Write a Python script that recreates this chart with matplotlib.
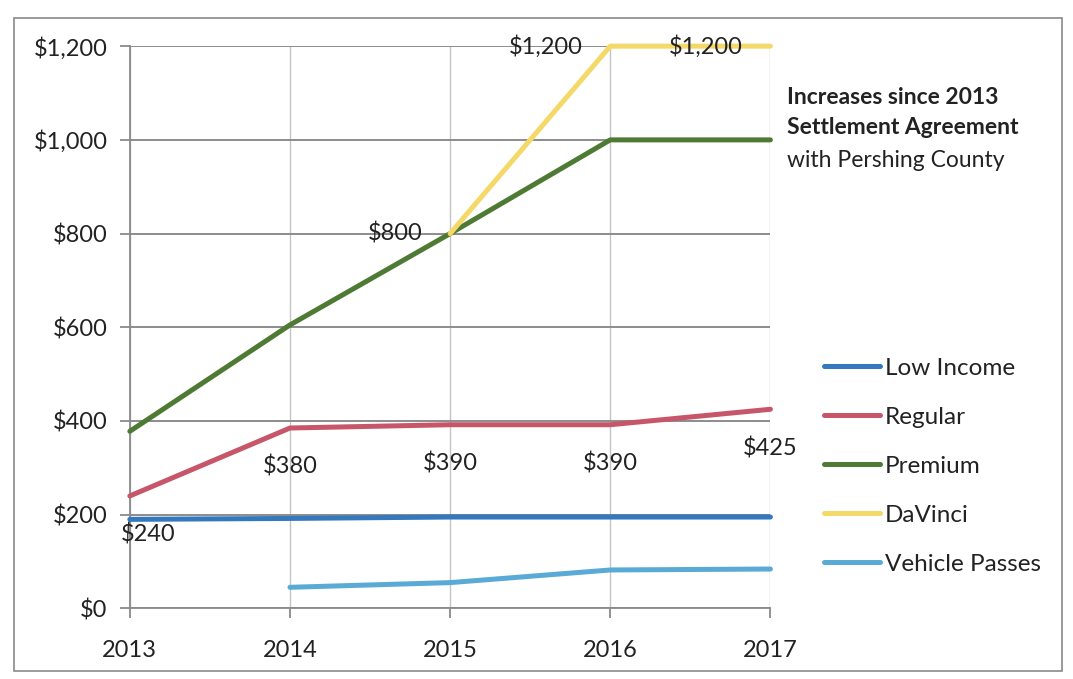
import matplotlib
matplotlib.use("Agg")
import matplotlib.pyplot as plt
import numpy as np
from matplotlib.patches import Rectangle

plt.rcParams['font.family'] = ['Lato', 'DejaVu Sans']

years = [2013, 2014, 2015, 2016, 2017]
low_income = [190, 192, 195, 195, 195]
regular = [240, 385, 392, 392, 425]
premium = [378, 605, 800, 1000, 1000]
davinci = [np.nan, np.nan, 800, 1200, 1200]
vehicle = [np.nan, 45, 55, 82, 84]

regular_labels = ["$240", "$380", "$390", "$390", "$425"]
davinci_labels = [None, None, "$800", "$1,200", "$1,200"]

series_names = ["Low Income", "Regular", "Premium", "DaVinci", "Vehicle Passes"]
colors = ["#3479BE", "#C8566A", "#4E7A34", "#F4D968", "#5AAAD6"]
y_ticks = [0, 200, 400, 600, 800, 1000, 1200]
y_tick_labels = ["$0", "$200", "$400", "$600", "$800", "$1,000", "$1,200"]

fig = plt.figure(figsize=(10.73, 6.79), dpi=100)
ax = fig.add_axes([0.121, 0.104, 0.597, 0.828])

all_series = [low_income, regular, premium, davinci, vehicle]
lines = []
for name, vals, c in zip(series_names, all_series, colors):
    ln, = ax.plot(years, vals, color=c, lw=3.6, solid_capstyle='round',
                  label=name, clip_on=False, zorder=3)
    lines.append(ln)

ax.set_xlim(2013, 2017)
ax.set_ylim(0, 1200)
ax.set_xticks(years)
ax.set_xticklabels([str(y) for y in years])
ax.set_yticks(y_ticks)
ax.set_yticklabels(y_tick_labels)

for s in ['top', 'right']:
    ax.spines[s].set_visible(False)
for s in ['left', 'bottom']:
    ax.spines[s].set_color('#8a8a8a')
    ax.spines[s].set_linewidth(1.3)

ax.grid(axis='y', color='#8c8c8c', lw=1.4, zorder=1)
ax.grid(axis='x', color='#c4c4c4', lw=1.0, zorder=1)
ax.tick_params(axis='y', length=7, width=1.3, color='#8a8a8a', pad=9,
               labelsize=17, labelcolor='#222222')
ax.tick_params(axis='x', length=7, width=1.3, color='#8a8a8a', pad=16,
               labelsize=17, labelcolor='#222222')

# Data labels
for i, (yr, v, lab) in enumerate(zip(years, regular, regular_labels)):
    dx = 13 if i == 0 else 0
    ax.annotate(lab, (yr, v), xytext=(dx, -28), textcoords='offset points',
                ha='center', va='center', fontsize=17, color='#222222', zorder=4,
                annotation_clip=False)
for yr, v, lab in zip(years, davinci, davinci_labels):
    if lab is None:
        continue
    ax.annotate(lab, (yr, v), xytext=(-20, 0), textcoords='offset points',
                ha='right', va='center', fontsize=17, color='#222222', zorder=4,
                annotation_clip=False)

leg = fig.legend(handles=lines, loc='upper left', bbox_to_anchor=(0.768, 0.473),
                 frameon=False, fontsize=17.5, handlelength=2.3, handletextpad=0.2,
                 labelspacing=1.15, borderpad=0, borderaxespad=0)
for t in leg.get_texts():
    t.set_color('#222222')

fig.text(0.733, 0.857, "Increases since 2013", fontsize=16.5, fontweight='bold',
         color='#222222', va='center')
fig.text(0.733, 0.812, "Settlement Agreement", fontsize=16.5, fontweight='bold',
         color='#222222', va='center')
fig.text(0.733, 0.764, "with Pershing County", fontsize=16.5,
         color='#222222', va='center')

fig.patches.append(Rectangle((0.013, 0.012), 0.977, 0.962, transform=fig.transFigure,
                             fill=False, edgecolor='#8a8a8a', lw=1.2))

fig.savefig("out.png", dpi=100)
